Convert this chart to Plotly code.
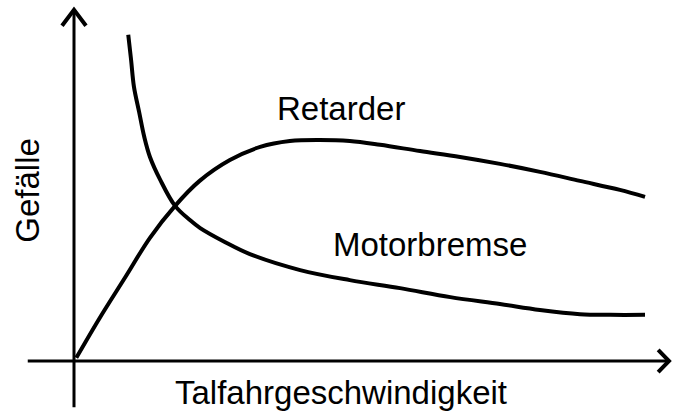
import plotly.graph_objects as go

# Data (arbitrary units: speed 0-100, gradient 0-100)
retarder_x = [0.4, 4.5, 9.0, 13.3, 17.7, 22.0, 27.3, 32.6, 37.8, 43.0, 48.3, 53.6, 60.6, 67.6, 74.6, 81.6, 88.6, 95.6, 100.0]
retarder_y = [0.9, 12.4, 24.2, 35.5, 44.7, 51.9, 57.9, 61.7, 63.4, 63.7, 63.4, 62.3, 60.5, 58.8, 56.8, 54.5, 51.9, 49.3, 47.3]

motor_x = [9.5, 10.0, 10.5, 11.4, 12.3, 13.3, 15.1, 17.7, 20.3, 22.1, 26.4, 30.8, 39.6, 48.3, 57.1, 65.9, 74.6, 81.6, 88.6, 93.9, 100.0]
motor_y = [94.0, 86.7, 79.0, 71.8, 64.6, 58.8, 52.2, 44.7, 40.6, 38.3, 34.3, 30.8, 26.2, 23.3, 21.0, 18.4, 16.4, 14.7, 13.5, 13.3, 13.3]

labels = {"retarder": "Retarder", "motor": "Motorbremse",
          "xlabel": "Talfahrgeschwindigkeit", "ylabel": "Gefälle"}

FONT = "Liberation Sans, Arial, Helvetica, sans-serif"

fig = go.Figure()
fig.add_trace(go.Scatter(x=retarder_x, y=retarder_y, mode="lines",
                         line=dict(color="black", width=4, shape="spline", smoothing=1.0),
                         hoverinfo="skip", showlegend=False))
fig.add_trace(go.Scatter(x=motor_x, y=motor_y, mode="lines",
                         line=dict(color="black", width=4, shape="spline", smoothing=1.0),
                         hoverinfo="skip", showlegend=False))

# axes with arrows
ax_w = 3
fig.add_shape(type="line", x0=0, y0=-13.3, x1=0, y1=101.2, line=dict(color="black", width=ax_w))
fig.add_shape(type="line", x0=-8.1, y0=0, x1=104.2, y1=0, line=dict(color="black", width=ax_w))
fig.add_shape(type="path", path="M -2.1 96.6 L 0 101.2 L 2.1 96.6", line=dict(color="black", width=4))
fig.add_shape(type="path", path="M 102.3 3.2 L 104.2 0 L 102.3 -3.2", line=dict(color="black", width=4))

fig.add_annotation(x=46.8, y=72.9, text=labels["retarder"], showarrow=False,
                   font=dict(family=FONT, size=33, color="black"))
fig.add_annotation(x=62.3, y=33.7, text=labels["motor"], showarrow=False,
                   font=dict(family=FONT, size=33, color="black"))
fig.add_annotation(x=46.8, y=-9.2, text=labels["xlabel"], showarrow=False,
                   font=dict(family=FONT, size=33, color="black"))
fig.add_annotation(x=-8.1, y=49.3, text=labels["ylabel"], showarrow=False, textangle=-90,
                   font=dict(family=FONT, size=33, color="black"))

fig.update_layout(
    width=673, height=417,
    margin=dict(l=0, r=0, t=0, b=0),
    paper_bgcolor="white", plot_bgcolor="white",
    xaxis=dict(range=[-12.96, 104.9], visible=False, fixedrange=True),
    yaxis=dict(range=[-16.14, 104.03], visible=False, fixedrange=True),
)

fig.write_html("out.html", config={"displayModeBar": False},
               post_script="document.body.style.margin='0';document.body.style.overflow='hidden';")
